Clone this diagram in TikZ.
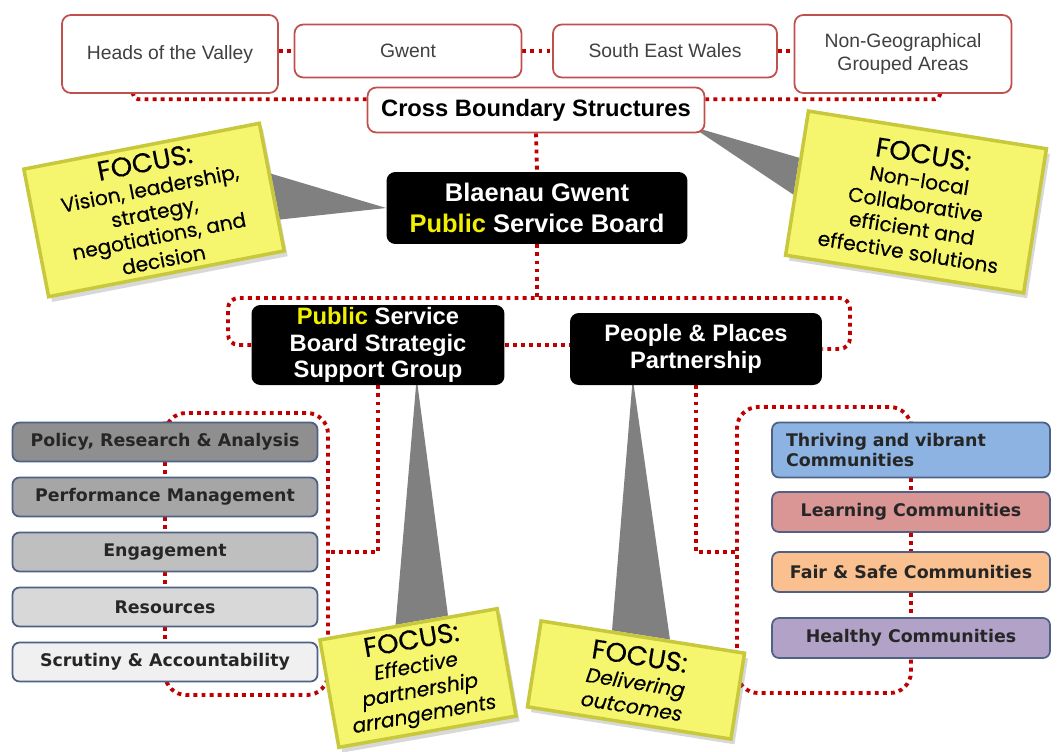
\documentclass[tikz,border=0pt]{standalone}
\usepackage{fontspec}
\setmainfont{Liberation Sans}
\newfontfamily\listfont{DejaVu Sans}
\newfontfamily\focusfont{Poppins}[FakeBold=0.3]
\usetikzlibrary{calc}
\usetikzlibrary{shadows}
\usetikzlibrary{backgrounds}
\definecolor{dotred}{RGB}{192,0,0}
\definecolor{edgered}{RGB}{192,80,77}
\definecolor{slateedge}{RGB}{79,98,134}
\definecolor{pubyellow}{RGB}{240,240,0}
\definecolor{focusyellow}{RGB}{246,246,110}
\definecolor{focusedge}{RGB}{200,200,60}
\definecolor{wedgegray}{RGB}{128,128,128}
\definecolor{greyA}{RGB}{143,143,143}
\definecolor{greyB}{RGB}{166,166,166}
\definecolor{greyC}{RGB}{191,191,191}
\definecolor{greyD}{RGB}{216,216,216}
\definecolor{greyE}{RGB}{240,240,240}
\definecolor{thrivblue}{RGB}{141,179,226}
\definecolor{learnrose}{RGB}{217,150,148}
\definecolor{fairorange}{RGB}{250,192,144}
\definecolor{healthlilac}{RGB}{179,162,199}
\tikzset{
    topbox/.style = {rectangle, rounded corners=5pt, draw=edgered, line width=1pt, fill=white, align=center, inner sep=0pt, font=\fontsize{11}{13}\selectfont, text=black!75},
    crossbox/.style = {topbox, font=\bfseries\fontsize{13.5}{15}\selectfont, text=black},
    darkbox/.style = {rectangle, rounded corners=5pt, fill=black, align=center, inner sep=0pt, text=white, font=\bfseries\fontsize{13.5}{15}\selectfont},
    listbox/.style = {rectangle, rounded corners=4pt, draw=slateedge, line width=1pt, align=center, inner sep=0pt, minimum width=6.1cm, minimum height=0.78cm, font=\listfont\bfseries\fontsize{9.9}{11.5}\selectfont, text=black!85},
    rlistbox/.style = {listbox, minimum width=5.56cm, minimum height=0.8cm},
    focusbox/.style = {rectangle, fill=focusyellow, draw=focusedge, line width=2pt, align=center, inner sep=1pt, font=\focusfont\fontsize{11.5}{13.8}\selectfont, text=black, drop shadow={opacity=0.3, shadow xshift=2pt, shadow yshift=-3pt}},
    dotline/.style = {draw=dotred, line width=2.2pt, dash pattern=on 2.2pt off 2.4pt},
    wedge/.style = {fill=wedgegray}
}
\newcommand{\focushead}{{\fontsize{15.5}{16}\selectfont FOCUS:}\\}

\begin{document}
\begin{tikzpicture}[x=0.02cm, y=-0.02cm]
  \useasboundingbox (0,0) rectangle (1058,751);
  % cross boundary row
  \node[topbox, minimum width=4.32cm, minimum height=1.56cm] (heads) at (170,54) {Heads of the Valley};
  \node[topbox, minimum width=4.54cm, minimum height=1.06cm] (gwent) at (408,51) {Gwent};
  \node[topbox, minimum width=4.48cm, minimum height=1.06cm] (sewales) at (665,51) {South East Wales};
  \node[topbox, minimum width=4.34cm, minimum height=1.56cm] (nongeo) at (903,54) {Non-Geographical\\Grouped Areas};
  \node[crossbox, minimum width=6.74cm, minimum height=0.9cm] (cross) at (536,110) {Cross Boundary Structures};
  % boards
  \node[darkbox, minimum width=6.02cm, minimum height=1.44cm, font=\bfseries\fontsize{14.5}{18}\selectfont] (board) at (537,208) {Blaenau Gwent\\\textcolor{pubyellow}{Public} Service Board};
  \node[darkbox, minimum width=5.06cm, minimum height=1.6cm] (psb) at (378,345) {\textcolor{pubyellow}{Public} Service\\Board Strategic\\Support Group};
  \node[darkbox, minimum width=5.04cm, minimum height=1.44cm] (people) at (696,349) {People \& Places\\Partnership};
  % support group list
  \node[listbox, fill=greyA] (policy) at (165,442) {Policy, Research \& Analysis};
  \node[listbox, fill=greyB] (perform) at (165,497) {Performance Management};
  \node[listbox, fill=greyC] (engage) at (165,552) {Engagement};
  \node[listbox, fill=greyD] (resource) at (165,607) {Resources};
  \node[listbox, fill=greyE] (scrutiny) at (165,662) {Scrutiny \& Accountability};
  % partnership list
  \node[rlistbox, fill=thrivblue, minimum height=1.1cm, align=left, text width=5cm] (thriving) at (911,450) {Thriving and vibrant\\Communities};
  \node[rlistbox, fill=learnrose] (learning) at (911,512) {Learning Communities};
  \node[rlistbox, fill=fairorange] (fairsafe) at (911,572) {Fair \& Safe Communities};
  \node[rlistbox, fill=healthlilac] (healthy) at (911,638) {Healthy Communities};
  % focus notes
  \node[focusbox, minimum width=4.8cm, minimum height=2.6cm, rotate=11] (focvision) at (154,210) {\focushead Vision, leadership,\\strategy,\\negotiations, and\\decision};
  \node[focusbox, minimum width=4.82cm, minimum height=2.92cm, rotate=-9] (foccollab) at (916,202) {\focushead Non-local\\Collaborative\\efficient and\\effective solutions};
  \node[focusbox, minimum width=3.6cm, minimum height=2.18cm, rotate=10] (focpartner) at (418,678) {\focushead \textit{Effective}\\\textit{partnership}\\\textit{arrangements}};
  \node[focusbox, minimum width=4.12cm, minimum height=1.74cm, rotate=-9] (focdeliver) at (636,680) {\focushead \textit{Delivering}\\\textit{outcomes}};

  \begin{scope}[on background layer]
    \fill[white] (0,0) rectangle (1058,751);
    % pointers
    \fill[wedge] (board.west) -- ($(focvision.north east)!0.4!(focvision.south east)$) -- ($(focvision.north east)!0.75!(focvision.south east)$) -- cycle;
    \fill[wedge] ([xshift=-8pt, yshift=4pt]cross.south east) -- ($(foccollab.north west)!0.33!(foccollab.south west)$) -- ($(foccollab.north west)!0.58!(foccollab.south west)$) -- cycle;
    \fill[wedge] ([xshift=22pt, yshift=4pt]psb.south) -- ($(focpartner.north west)!0.43!(focpartner.north east)$) -- ($(focpartner.north west)!0.72!(focpartner.north east)$) -- cycle;
    \fill[wedge] ([xshift=-36pt, yshift=4pt]people.south) -- ($(focdeliver.north west)!0.35!(focdeliver.north east)$) -- ($(focdeliver.north west)!0.63!(focdeliver.north east)$) -- cycle;
    % dotted links, top
    \draw[dotline] (gwent.west -| heads.east) -- (gwent.west);
    \draw[dotline] (gwent.east) -- (sewales.west);
    \draw[dotline] (sewales.east) -- (sewales.east -| nongeo.west);
    \draw[dotline, rounded corners=3pt] ($(cross.north west)!0.27!(cross.south west)$) -| ($(heads.south west)!0.33!(heads.south east)$);
    \draw[dotline, rounded corners=3pt] ($(cross.north east)!0.27!(cross.south east)$) -| ($(nongeo.south west)!0.67!(nongeo.south east)$);
    \draw[dotline] (cross.south) -- (board.north);
    % dotted links, boards
    \coordinate (busL) at (228,298);
    \coordinate (busR) at (850,298);
    \draw[dotline] (board.south) -- (board.south |- busL);
    \draw[dotline, rounded corners=6pt] (psb.west) -| (busL) -- (busR) |- (people.east);
    \draw[dotline] (psb.east) -- (psb.east -| people.west);
    % dotted links, left list
    \coordinate (lloopT) at (328,413);
    \coordinate (lloopB) at (328,695);
    \draw[dotline] (psb.south) |- (lloopT |- engage);
    \draw[dotline, rounded corners=12pt] (policy.north) |- (lloopT) -- (lloopB) -| (scrutiny.south);
    \foreach \a/\b in {policy/perform, perform/engage, engage/resource, resource/scrutiny}
      \draw[dotline] (\a.south) -- (\b.north);
    % dotted links, right list
    \coordinate (rloopT) at (737,407);
    \coordinate (rloopB) at (737,693);
    \draw[dotline] (people.south) |- (rloopT |- engage);
    \draw[dotline, rounded corners=12pt] (thriving.north) |- (rloopT) -- (rloopB) -| (healthy.south);
    \foreach \a/\b in {thriving/learning, learning/fairsafe, fairsafe/healthy}
      \draw[dotline] (\a.south) -- (\b.north);
  \end{scope}
\end{tikzpicture}
\end{document}
